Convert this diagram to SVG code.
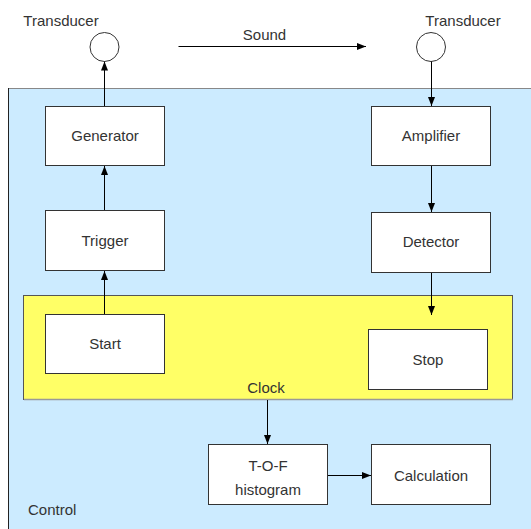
<svg xmlns="http://www.w3.org/2000/svg" width="531" height="529" viewBox="0 0 531 529">
<defs>
<marker id="ah" markerUnits="userSpaceOnUse" markerWidth="10" markerHeight="8" refX="9" refY="3.5" orient="auto">
<path d="M0,0 L9,3.5 L0,7 z" fill="#000"/>
</marker>
<style>
.box{fill:#fff;stroke:#333;stroke-width:1}
.t{font-family:"Liberation Sans",Arial,sans-serif;font-size:15px;fill:#333;text-anchor:middle}
.c{stroke:#000;stroke-width:1;fill:none;marker-end:url(#ah)}
</style>
</defs>
<rect width="531" height="529" fill="#fff"/>
<g id="control">
<rect x="8" y="88" width="540" height="460" fill="#CCEBFF"/>
<line x1="8" y1="88.5" x2="531" y2="88.5" stroke="#888"/>
<line x1="8.5" y1="88" x2="8.5" y2="529" stroke="#222"/>
<text class="t" x="28" y="515" style="text-anchor:start">Control</text>
</g>
<g id="clock">
<rect x="23.5" y="295.5" width="489" height="104" fill="#FFFF66" stroke="#555"/>
<line x1="24" y1="399.5" x2="513" y2="399.5" stroke="#999" stroke-width="1.5"/>
<text class="t" x="266" y="392.5" fill="#444">Clock</text>
</g>
<g id="transducer-left">
<circle cx="104.5" cy="47" r="14.5" fill="#fff" stroke="#333"/>
<text class="t" x="61" y="25.5">Transducer</text>
</g>
<g id="transducer-right">
<circle cx="431" cy="47" r="14.5" fill="#fff" stroke="#333"/>
<text class="t" x="463" y="25.5">Transducer</text>
</g>
<g id="sound">
<text class="t" x="264.5" y="39.5">Sound</text>
</g>
<g id="generator">
<rect class="box" x="45.5" y="106.5" width="119" height="59"/>
<text class="t" x="105" y="141">Generator</text>
</g>
<g id="trigger">
<rect class="box" x="45.5" y="210.5" width="119" height="60"/>
<text class="t" x="105" y="245.5">Trigger</text>
</g>
<g id="start">
<rect class="box" x="45.5" y="314.5" width="119" height="59"/>
<text class="t" x="105" y="349">Start</text>
</g>
<g id="amplifier">
<rect class="box" x="371.5" y="106.5" width="119" height="59"/>
<text class="t" x="431" y="141">Amplifier</text>
</g>
<g id="detector">
<rect class="box" x="371.5" y="212.5" width="119" height="60"/>
<text class="t" x="431" y="247">Detector</text>
</g>
<g id="stop">
<rect class="box" x="368.5" y="329.5" width="119" height="60"/>
<text class="t" x="428" y="364.5">Stop</text>
</g>
<g id="tof">
<rect class="box" x="208.5" y="444.5" width="119" height="60"/>
<text class="t" x="268" y="470.5">T-O-F</text>
<text class="t" x="268" y="495">histogram</text>
</g>
<g id="calculation">
<rect class="box" x="371.5" y="444.5" width="119" height="60"/>
<text class="t" x="431" y="480.5">Calculation</text>
</g>
<g id="connectors">
<line class="c" x1="104.5" y1="106" x2="104.5" y2="61.5"/>
<line class="c" x1="104.5" y1="210" x2="104.5" y2="166"/>
<line class="c" x1="104.5" y1="314" x2="104.5" y2="271"/>
<line class="c" x1="178.5" y1="46.5" x2="366" y2="46.5"/>
<line class="c" x1="431.5" y1="61.5" x2="431.5" y2="106"/>
<line class="c" x1="431.5" y1="166" x2="431.5" y2="212"/>
<line class="c" x1="431.5" y1="273" x2="431.5" y2="315"/>
<line class="c" x1="267.5" y1="400" x2="267.5" y2="444"/>
<line class="c" x1="328" y1="475.5" x2="371" y2="475.5"/>
</g>
</svg>
